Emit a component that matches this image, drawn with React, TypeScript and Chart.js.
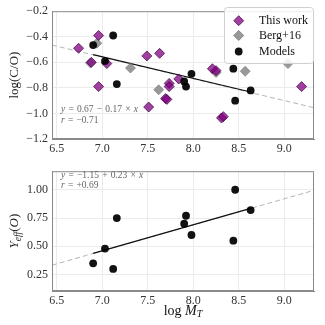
import React, { useEffect, useRef } from "react";
import { Chart, registerables } from "chart.js";

Chart.register(...registerables);

// ---------- data ----------
const thisWorkX = [6.74, 6.96, 6.88, 6.96, 7.05, 7.49, 7.63, 7.51, 7.735, 7.735, 7.695, 7.71, 7.84, 8.21, 8.25, 8.31, 8.33, 9.19];
const thisWorkY = [-0.49, -0.39, -0.60, -0.79, -0.61, -0.55, -0.53, -0.95, -0.765, -0.79, -0.884, -0.89, -0.73, -0.65, -0.665, -1.035, -1.025, -0.79];

const bergX = [6.94, 6.87, 7.31, 7.62, 8.25, 8.57, 9.04];
const bergY = [-0.45, -0.605, -0.645, -0.815, -0.68, -0.67, -0.61];

const modelX = [6.90, 7.03, 7.12, 7.16, 7.90, 7.92, 7.98, 8.44, 8.46, 8.63];
const modelCO = [-0.465, -0.59, -0.39, -0.77, -0.75, -0.79, -0.69, -0.65, -0.90, -0.82];
const modelYeff = [0.35, 0.48, 0.30, 0.75, 0.70, 0.77, 0.60, 0.55, 1.00, 0.82];

const topFitSolidX = [6.90, 8.63];
const topFitSolidY = [-0.54, -0.832];
const topFitDashX = [6.448, 9.326];
const topFitDashY = [-0.465, -0.955];

const botFitSolidX = [6.90, 8.63];
const botFitSolidY = [0.437, 0.835];
const botFitDashX = [6.448, 9.326];
const botFitDashY = [0.333, 0.995];

const xTicks = [6.5, 7.0, 7.5, 8.0, 8.5, 9.0];
const topYTicks = [-1.2, -1.0, -0.8, -0.6, -0.4, -0.2];
const botYTicks = [0.25, 0.5, 0.75, 1.0];

const legendLabels = ["This work", "Berg+16", "Models"];
const topEq = ["y", "=", "0.67", "\u2212", "0.17", "\u00d7", "x"];
const topR = ["r", "=", "\u22120.71"];
const botEq = ["y", "=", "\u22121.15", "+", "0.23", "\u00d7", "x"];
const botR = ["r", "=", "+0.69"];

// ---------- styling ----------
const FAMILY = '"Liberation Serif", "DejaVu Serif", serif';
const PURPLE = "rgba(128,0,128,0.75)";
const PURPLE_EDGE = "rgba(70,0,70,0.9)";
const GRAY = "rgba(128,128,128,0.8)";
const GRAY_EDGE = "rgba(110,110,110,0.9)";
const BLACK = "rgba(0,0,0,0.93)";

const zip = (xs: number[], ys: number[]) => xs.map((x, i) => ({ x, y: ys[i] }));

const fmt = (v: number, d: number) => {
  const s = Math.abs(v).toFixed(d);
  return v < -1e-9 ? "\u2212" + s : s;
};

type Seg = { t: string; italic?: boolean; size: number; dy?: number; gapAfter?: number };

function richWidth(ctx: CanvasRenderingContext2D, segs: Seg[]) {
  let w = 0;
  for (const s of segs) {
    ctx.font = `${s.italic ? "italic " : ""}${s.size}px ${FAMILY}`;
    w += ctx.measureText(s.t).width + (s.gapAfter || 0);
  }
  return w;
}

function drawRich(ctx: CanvasRenderingContext2D, x: number, y: number, segs: Seg[], align: "left" | "center") {
  let cx = align === "center" ? x - richWidth(ctx, segs) / 2 : x;
  ctx.textAlign = "left";
  ctx.textBaseline = "middle";
  for (const s of segs) {
    ctx.font = `${s.italic ? "italic " : ""}${s.size}px ${FAMILY}`;
    ctx.fillText(s.t, cx, y + (s.dy || 0));
    cx += ctx.measureText(s.t).width + (s.gapAfter || 0);
  }
}

function eqSegs(parts: string[], size: number): Seg[] {
  const isVar = (p: string) => /^[a-z]$/.test(p);
  return parts.map((p, i) => ({
    t: p,
    italic: isVar(p),
    size,
    gapAfter: i < parts.length - 1 ? 3.2 : 0,
  }));
}

function framePlugin(id: string) {
  return {
    id,
    afterDatasetsDraw(chart: any) {
      const { ctx, chartArea: a } = chart;
      ctx.save();
      ctx.strokeStyle = "#8a8a8a";
      ctx.lineWidth = 1;
      ctx.strokeRect(a.left + 0.5, a.top + 0.5, a.right - a.left - 1, a.bottom - a.top - 1);
      ctx.restore();
    },
  };
}

function makeOptions(cfg: {
  padTop: number;
  xAxisH: number;
  yMin: number;
  yMax: number;
  yTicks: number[];
  yDec: number;
}) {
  const tickFont = { family: FAMILY, size: 12 };
  return {
    responsive: false,
    maintainAspectRatio: false,
    animation: false,
    layout: { padding: { left: 0, right: 11, top: cfg.padTop, bottom: 0 } },
    plugins: { legend: { display: false }, tooltip: { enabled: false } },
    scales: {
      x: {
        type: "linear",
        min: 6.448,
        max: 9.326,
        afterBuildTicks: (s: any) => {
          s.ticks = xTicks.map((v) => ({ value: v }));
        },
        afterFit: (s: any) => {
          s.height = cfg.xAxisH;
        },
        grid: { color: "#ebebeb", drawTicks: false },
        border: { color: "#8a8a8a" },
        ticks: {
          padding: 3,
          font: tickFont,
          color: "#333",
          maxRotation: 0,
          autoSkip: false,
          callback: (v: any) => fmt(Number(v), 1),
        },
      },
      y: {
        type: "linear",
        min: cfg.yMin,
        max: cfg.yMax,
        afterBuildTicks: (s: any) => {
          s.ticks = cfg.yTicks.map((v) => ({ value: v }));
        },
        afterFit: (s: any) => {
          s.width = 52;
        },
        grid: { color: "#ebebeb", drawTicks: false },
        border: { color: "#8a8a8a" },
        ticks: {
          padding: 4,
          font: tickFont,
          color: "#333",
          autoSkip: false,
          callback: (v: any) => fmt(Number(v), cfg.yDec),
        },
      },
    },
  };
}

function TopChart() {
  const ref = useRef<HTMLCanvasElement>(null);
  useEffect(() => {
    if (!ref.current) return;
    const overlay = {
      id: "topOverlay",
      afterDraw(chart: any) {
        const { ctx, chartArea: a } = chart;
        ctx.save();
        // equations
        ctx.fillStyle = "#666";
        drawRich(ctx, 61, 109, eqSegs(topEq, 9.5), "left");
        drawRich(ctx, 61, 120.5, eqSegs(topR, 9.5), "left");
        // y title
        ctx.fillStyle = "#222";
        ctx.translate(15, (a.top + a.bottom) / 2);
        ctx.rotate(-Math.PI / 2);
        drawRich(ctx, 0, 0, [{ t: "log(C/O)", size: 13 }], "center");
        ctx.restore();

        // legend
        ctx.save();
        const bx = 224, by = 7, bw = 89, bh = 56;
        ctx.beginPath();
        ctx.roundRect(bx + 0.5, by + 0.5, bw, bh, 3);
        ctx.fillStyle = "rgba(255,255,255,0.85)";
        ctx.fill();
        ctx.strokeStyle = "#d0d0d0";
        ctx.lineWidth = 1;
        ctx.stroke();
        const rows = [20.7, 35.5, 51.5];
        const mx = 238.7;
        // diamond purple
        const diamond = (cx: number, cy: number, r: number, fill: string, edge: string) => {
          ctx.beginPath();
          ctx.moveTo(cx - r, cy);
          ctx.lineTo(cx, cy - r);
          ctx.lineTo(cx + r, cy);
          ctx.lineTo(cx, cy + r);
          ctx.closePath();
          ctx.fillStyle = fill;
          ctx.fill();
          ctx.strokeStyle = edge;
          ctx.lineWidth = 0.8;
          ctx.stroke();
        };
        diamond(mx, rows[0], 5, PURPLE, PURPLE_EDGE);
        diamond(mx, rows[1], 5, GRAY, GRAY_EDGE);
        ctx.beginPath();
        ctx.arc(mx, rows[2], 3.9, 0, Math.PI * 2);
        ctx.fillStyle = BLACK;
        ctx.fill();
        ctx.fillStyle = "#111";
        legendLabels.forEach((t, i) => drawRich(ctx, 259, rows[i], [{ t, size: 12 }], "left"));
        ctx.restore();
      },
    };
    const chart = new Chart(ref.current, {
      type: "scatter",
      data: {
        datasets: [
          {
            label: "dash",
            data: zip(topFitDashX, topFitDashY),
            showLine: true,
            borderColor: "#b5b5b5",
            borderWidth: 1,
            borderDash: [5, 3],
            pointRadius: 0,
            order: 6,
          },
          {
            label: "fit",
            data: zip(topFitSolidX, topFitSolidY),
            showLine: true,
            borderColor: "#111",
            borderWidth: 1.2,
            pointRadius: 0,
            order: 5,
          },
          {
            label: legendLabels[1],
            data: zip(bergX, bergY),
            pointStyle: "rectRot",
            pointRadius: 5,
            backgroundColor: GRAY,
            borderColor: GRAY_EDGE,
            borderWidth: 0.6,
            order: 4,
          },
          {
            label: legendLabels[0],
            data: zip(thisWorkX, thisWorkY),
            pointStyle: "rectRot",
            pointRadius: 5,
            backgroundColor: PURPLE,
            borderColor: PURPLE_EDGE,
            borderWidth: 0.8,
            order: 3,
          },
          {
            label: legendLabels[2],
            data: zip(modelX, modelCO),
            pointStyle: "circle",
            pointRadius: 3.9,
            backgroundColor: BLACK,
            borderColor: BLACK,
            borderWidth: 0,
            order: 1,
          },
        ],
      },
      options: makeOptions({ padTop: 5, xAxisH: 21, yMin: -1.2, yMax: -0.2, yTicks: topYTicks, yDec: 1 }) as any,
      plugins: [framePlugin("frameTop"), overlay],
    });
    return () => chart.destroy();
  }, []);
  return <canvas ref={ref} width={325} height={160} style={{ position: "absolute", left: 0, top: 0, width: 325, height: 160 }} />;
}

function BottomChart() {
  const ref = useRef<HTMLCanvasElement>(null);
  useEffect(() => {
    if (!ref.current) return;
    const overlay = {
      id: "botOverlay",
      afterDraw(chart: any) {
        const { ctx, chartArea: a } = chart;
        ctx.save();
        ctx.fillStyle = "#666";
        drawRich(ctx, 61, 15, eqSegs(botEq, 9.5), "left");
        drawRich(ctx, 61, 25.5, eqSegs(botR, 9.5), "left");
        // x title
        ctx.fillStyle = "#111";
        drawRich(
          ctx,
          (a.left + a.right) / 2,
          151,
          [
            { t: "log ", size: 14 },
            { t: "M", italic: true, size: 14 },
            { t: "T", italic: true, size: 10, dy: 3 },
          ],
          "center"
        );
        // y title
        ctx.fillStyle = "#222";
        ctx.translate(15, (a.top + a.bottom) / 2);
        ctx.rotate(-Math.PI / 2);
        drawRich(
          ctx,
          0,
          0,
          [
            { t: "Y", italic: true, size: 13 },
            { t: "eff", italic: true, size: 9.5, dy: 3 },
            { t: "(", size: 13 },
            { t: "O", italic: true, size: 13 },
            { t: ")", size: 13 },
          ],
          "center"
        );
        ctx.restore();
      },
    };
    const chart = new Chart(ref.current, {
      type: "scatter",
      data: {
        datasets: [
          {
            label: "dash",
            data: zip(botFitDashX, botFitDashY),
            showLine: true,
            borderColor: "#b5b5b5",
            borderWidth: 1,
            borderDash: [5, 3],
            pointRadius: 0,
            order: 6,
          },
          {
            label: "fit",
            data: zip(botFitSolidX, botFitSolidY),
            showLine: true,
            borderColor: "#111",
            borderWidth: 1.2,
            pointRadius: 0,
            order: 5,
          },
          {
            label: legendLabels[2],
            data: zip(modelX, modelYeff),
            pointStyle: "circle",
            pointRadius: 3.9,
            backgroundColor: BLACK,
            borderColor: BLACK,
            borderWidth: 0,
            order: 1,
          },
        ],
      },
      options: makeOptions({ padTop: 3, xAxisH: 34, yMin: 0.105, yMax: 1.164, yTicks: botYTicks, yDec: 2 }) as any,
      plugins: [framePlugin("frameBot"), overlay],
    });
    return () => chart.destroy();
  }, []);
  return <canvas ref={ref} width={325} height={165} style={{ position: "absolute", left: 0, top: 160, width: 325, height: 165 }} />;
}

export default function App() {
  return (
    <div style={{ position: "absolute", left: 0, top: 0, width: 325, height: 325, background: "#fff" }}>
      <TopChart />
      <BottomChart />
    </div>
  );
}
